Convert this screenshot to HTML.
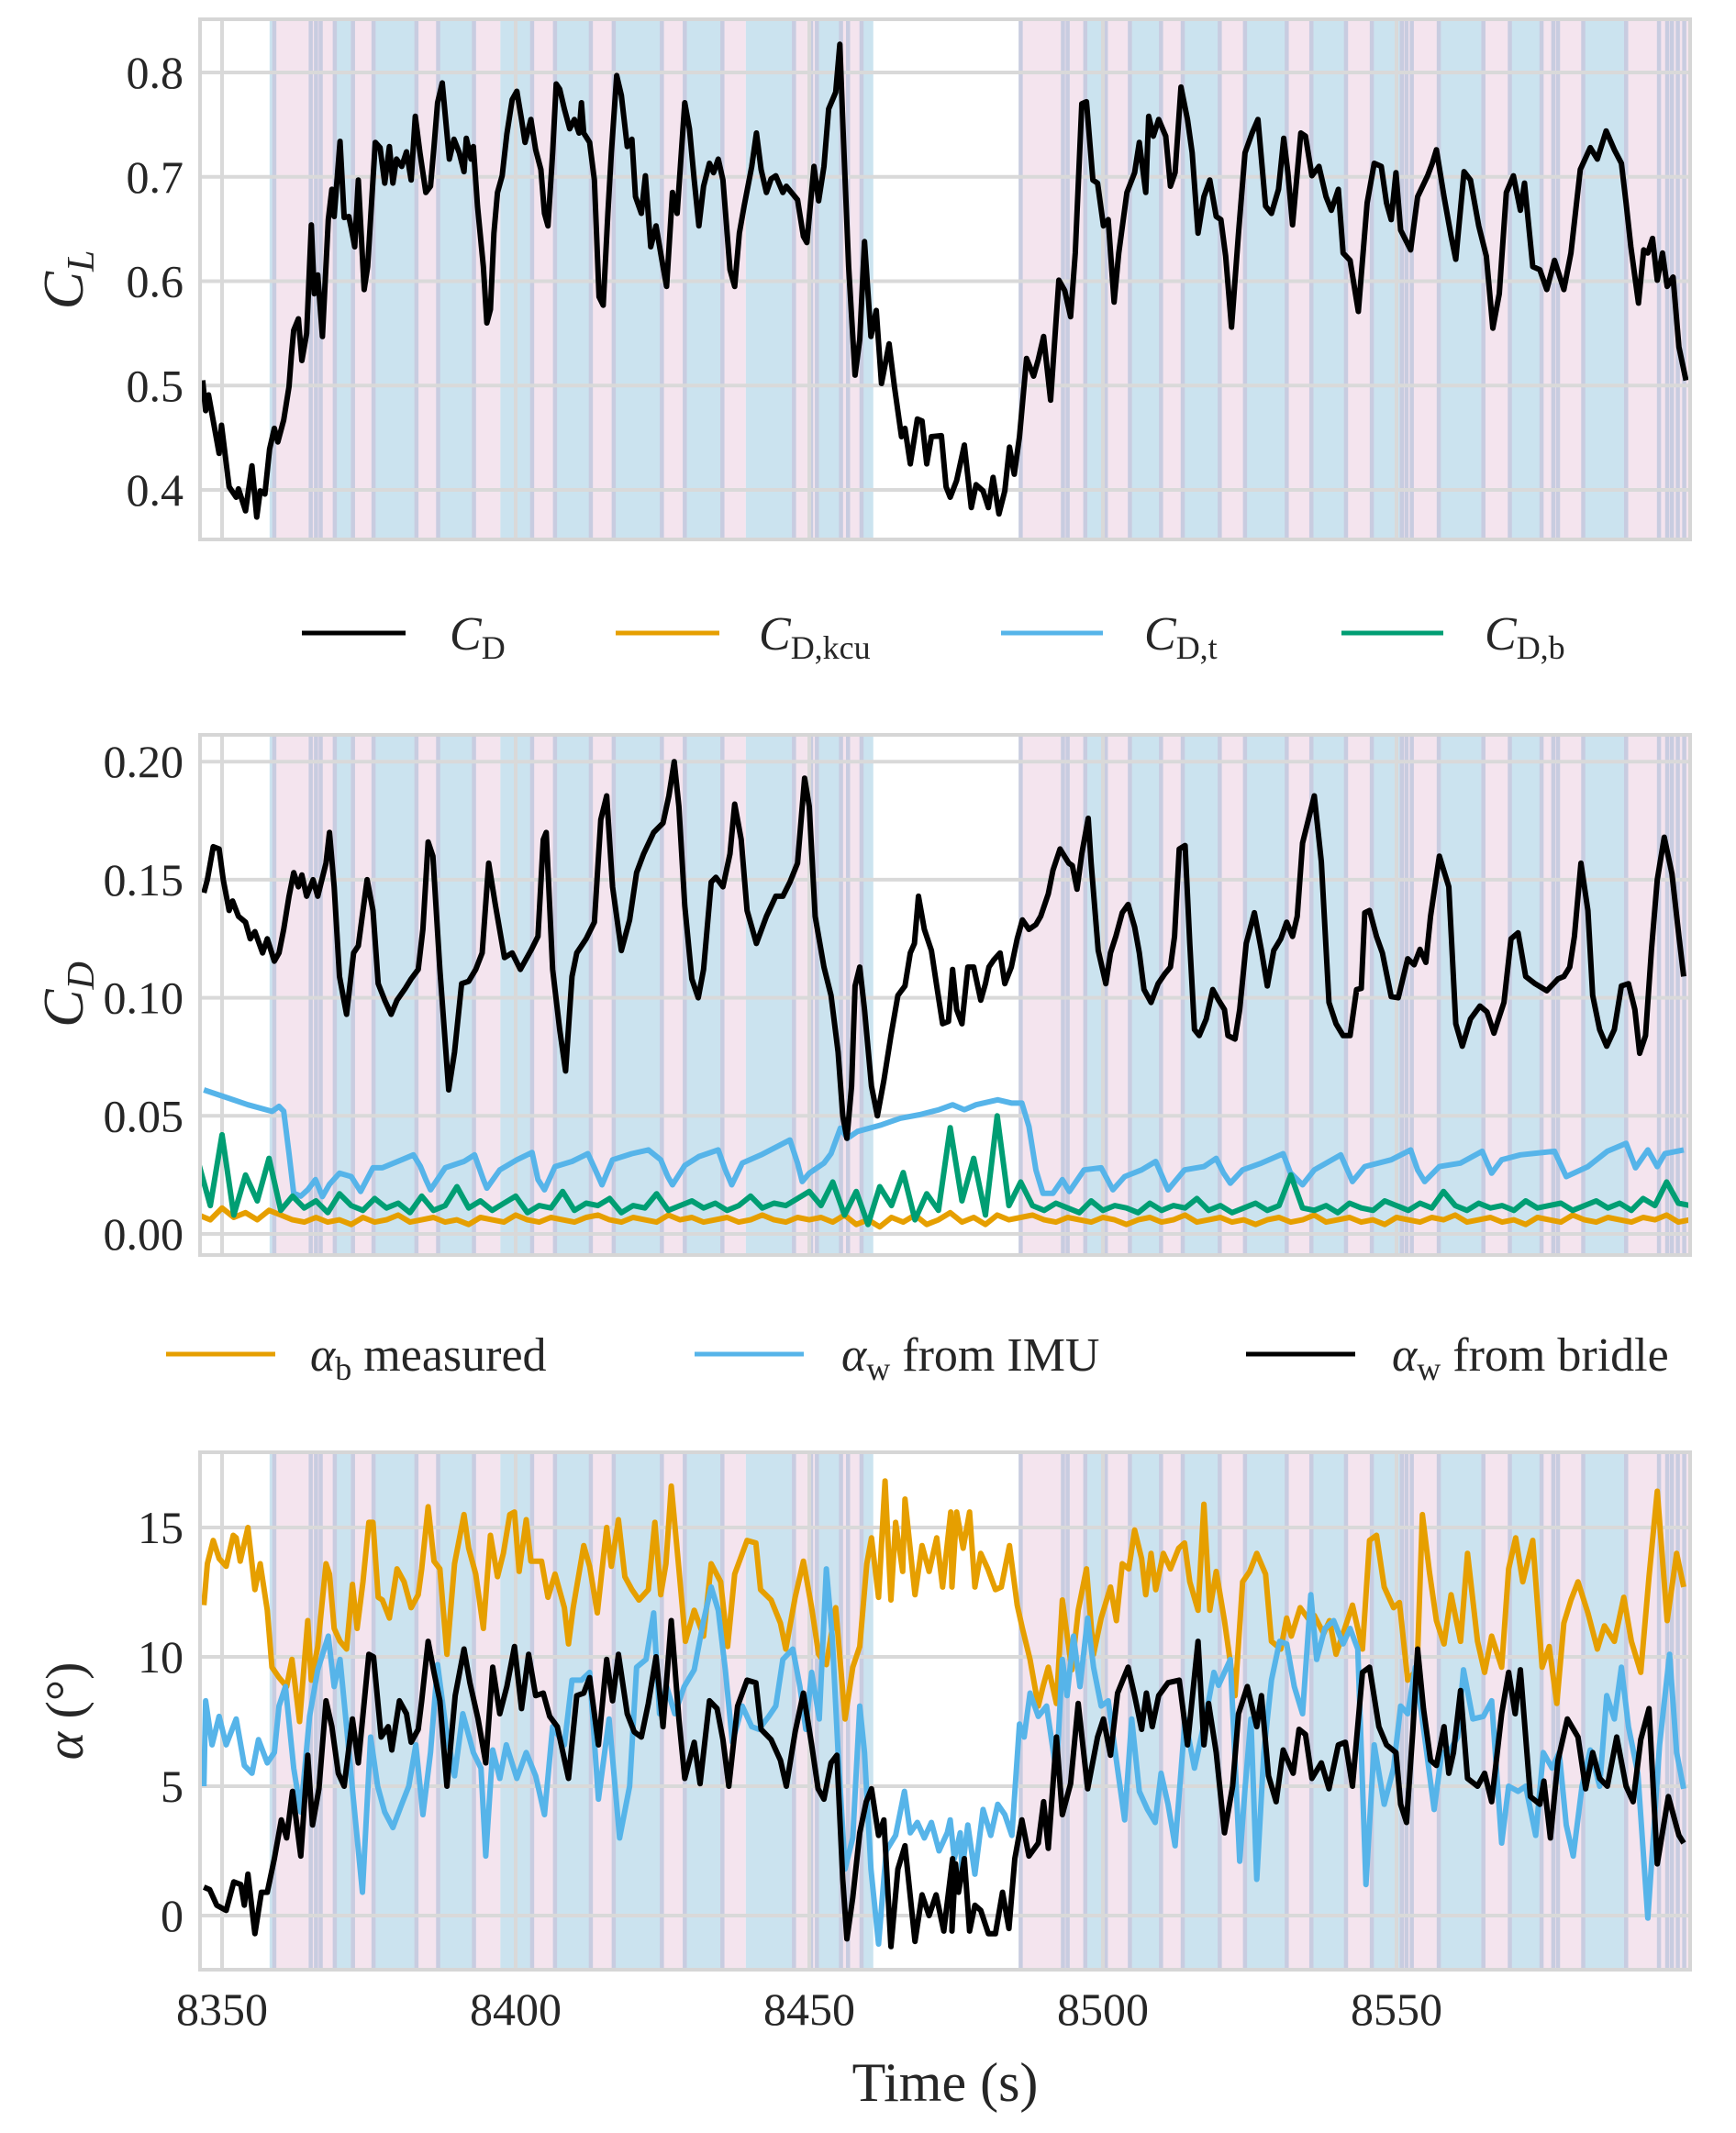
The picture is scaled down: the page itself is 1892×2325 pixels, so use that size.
<!DOCTYPE html>
<html><head><meta charset="utf-8">
<style>
html,body{margin:0;padding:0;background:#fff;}
svg{display:block;}
text{font-family:"Liberation Serif","DejaVu Serif",serif;fill:#262626;}
</style></head>
<body>
<svg id="fig" width="1892" height="2325" viewBox="0 0 1892 2325" xmlns="http://www.w3.org/2000/svg">
<defs>
<clipPath id="c1"><rect x="218" y="21" width="1624" height="567"/></clipPath>
<clipPath id="c2"><rect x="218" y="801" width="1624" height="567"/></clipPath>
<clipPath id="c3"><rect x="218" y="1583" width="1624" height="564"/></clipPath>
</defs>
<g id="p1bg" clip-path="url(#c1)"></g>
<g id="p2bg" clip-path="url(#c2)"></g>
<g id="p3bg" clip-path="url(#c3)"></g>
<g id="grid"></g>
<g id="p1" clip-path="url(#c1)"></g>
<g id="p2" clip-path="url(#c2)"></g>
<g id="p3" clip-path="url(#c3)"></g>
<g id="frames"></g>
<g id="ticks"></g>

<text transform="translate(90,305) rotate(-90)" font-size="62" font-style="italic" text-anchor="middle">C<tspan font-size="42" dy="12">L</tspan></text>
<text transform="translate(90,1084) rotate(-90)" font-size="62" font-style="italic" text-anchor="middle">C<tspan font-size="42" dy="12">D</tspan></text>
<text transform="translate(90,1865) rotate(-90)" font-size="58" text-anchor="middle"><tspan font-style="italic">α</tspan> (°)</text>
<text x="1030" y="2290" font-size="60" text-anchor="middle">Time (s)</text>

<g>
<g><line x1="329" y1="690" x2="442" y2="690" stroke="#000" stroke-width="5"/><text x="490" y="708" font-size="52"><tspan font-style="italic">C</tspan><tspan font-size="36" dy="10">D</tspan></text></g>
<g><line x1="671" y1="690" x2="784" y2="690" stroke="#E69F00" stroke-width="5"/><text x="827" y="708" font-size="52"><tspan font-style="italic">C</tspan><tspan font-size="36" dy="10">D,kcu</tspan></text></g>
<g><line x1="1091" y1="690" x2="1202" y2="690" stroke="#56B4E9" stroke-width="5"/><text x="1247" y="708" font-size="52"><tspan font-style="italic">C</tspan><tspan font-size="36" dy="10">D,t</tspan></text></g>
<g><line x1="1462" y1="690" x2="1573" y2="690" stroke="#009E73" stroke-width="5"/><text x="1618" y="708" font-size="52"><tspan font-style="italic">C</tspan><tspan font-size="36" dy="10">D,b</tspan></text></g>
</g>
<g>
<g><line x1="181" y1="1476" x2="300" y2="1476" stroke="#E69F00" stroke-width="5"/><text x="338" y="1494" font-size="52"><tspan font-style="italic">α</tspan><tspan font-size="36" dy="10">b</tspan><tspan dy="-10"> measured</tspan></text></g>
<g><line x1="757" y1="1476" x2="876" y2="1476" stroke="#56B4E9" stroke-width="5"/><text x="917" y="1494" font-size="52"><tspan font-style="italic">α</tspan><tspan font-size="36" dy="10">w</tspan><tspan dy="-10"> from IMU</tspan></text></g>
<g><line x1="1358" y1="1476" x2="1477" y2="1476" stroke="#000" stroke-width="5"/><text x="1517" y="1494" font-size="52"><tspan font-style="italic">α</tspan><tspan font-size="36" dy="10">w</tspan><tspan dy="-10"> from bridle</tspan></text></g>
</g>
</svg>
<script>
// ---- flight-phase spans ----
const spanStart = [8358.1,8358.9,8365.1,8366.8,8369.2,8372.3,8375.8,8383.1,8386.8,8392.9,8397.4,8402.8,8406.7,8412.8,8416.7,8424.9,8428.8,8435.2,8439.2,8447.4,8451.3,8455.4,8458.9,
 8486.0,8493.2,8497.0,8500.5,8504.6,8509.9,8513.6,8519.9,8524.2,8531.3,8535.5,8541.4,8545.8,8550.9,8557.2,8564.8,8569.3,8574.7,8581.8,8589.1,8594.7];
const spanEnd = [8358.9,8365.1,8366.8,8369.2,8372.3,8375.8,8383.1,8386.8,8392.9,8397.4,8402.8,8406.7,8412.8,8416.7,8424.9,8428.8,8435.2,8439.2,8447.4,8451.3,8455.4,8458.9,8460.9,
 8493.2,8497.0,8500.5,8504.6,8509.9,8513.6,8519.9,8524.2,8531.3,8535.5,8541.4,8545.8,8550.9,8557.2,8564.8,8569.3,8574.7,8581.8,8589.1,8594.7,8601];
const spanType = ["b","p","p","p","b","p","b","p","b","p","b","p","b","p","b","p","b","p","b","p","b","p","b",
 "p","p","b","p","b","p","b","p","b","p","b","p","b","p","b","p","b","p","b","p","p"];
const phaseLines = [8358.9,8365.1,8366.0,8366.8,8369.2,8372.3,8375.8,8383.1,8386.8,8392.9,8402.8,8406.7,8412.8,8416.7,8424.9,8428.8,8435.2,8447.4,8450.3,8451.3,8455.4,8456.6,8458.9,
 8486.0,8493.2,8494.0,8497.0,8500.5,8504.6,8509.9,8513.6,8519.9,8524.2,8531.3,8535.5,8541.4,8545.8,8550.9,8551.7,8552.6,8557.2,8564.8,8569.3,8574.7,8576.7,8577.5,8581.8,8589.1,8594.7,8596.1,8596.9,8597.9,8599.0];

// ---- C_L ----
const clT = [8346.7,8347.2,8347.7,8349.5,8349.9,8351.2,8352.4,8352.8,8354.0,8355.1,8355.9,8356.5,8357.3,8358.1,8358.9,8359.5,8360.5,8361.4,8361.8,8362.2,8363.0,8363.6,8364.4,8365.2,8365.7,8366.3,8367.1,8368.1,8368.7,8369.1,8370.1,8370.8,8371.6,8372.0,8372.6,8373.2,8374.2,8374.8,8376.1,8376.9,8377.7,8378.5,8379.1,8379.7,8380.6,8381.4,8382.2,8382.9,8383.7,8384.7,8385.5,8386.1,8386.7,8387.5,8388.7,8389.5,8390.4,8391.2,8391.6,8392.4,8392.8,8393.5,8394.5,8395.1,8395.7,8396.3,8396.9,8397.7,8398.5,8399.4,8400.2,8401.0,8401.6,8402.6,8403.4,8404.3,8404.9,8405.5,8406.3,8406.9,8407.5,8408.3,8409.2,8410.0,8410.8,8411.2,8411.6,8412.6,8413.4,8414.2,8414.9,8415.7,8416.3,8417.2,8418.0,8419.0,8419.8,8420.4,8421.4,8422.1,8423.0,8423.9,8425.1,8425.7,8426.7,8427.5,8428.8,8429.6,8430.4,8431.2,8432.0,8433.0,8433.7,8434.5,8435.3,8436.5,8437.3,8438.1,8438.9,8440.2,8441.0,8441.8,8442.7,8443.5,8444.3,8445.5,8446.1,8448.0,8449.0,8449.6,8450.8,8451.6,8452.5,8453.3,8454.5,8455.2,8455.8,8456.7,8457.8,8458.6,8459.4,8460.5,8461.4,8462.3,8463.6,8464.5,8465.7,8466.3,8467.2,8468.4,8469.2,8470.0,8470.8,8472.5,8473.3,
 8474.0,8475.1,8476.4,8477.6,8478.4,8479.6,8480.5,8481.3,8482.3,8483.3,8484.1,8484.9,8485.8,8487.0,8488.2,8489.0,8489.9,8491.1,8492.5,8493.5,8494.5,8495.3,8496.4,8497.2,8498.3,8499.1,8500.1,8500.9,8501.9,8502.7,8504.1,8505.4,8506.2,8507.3,8507.8,8508.6,8509.5,8510.7,8511.5,8512.3,8513.3,8514.4,8515.2,8516.2,8517.2,8518.2,8519.3,8520.1,8520.9,8521.9,8523.1,8524.2,8525.4,8526.4,8527.7,8528.7,8529.9,8530.8,8531.5,8532.3,8533.7,8534.5,8535.6,8536.8,8538.0,8538.9,8540.1,8540.9,8542.1,8543.5,8545.0,8546.2,8547.4,8548.3,8549.1,8549.9,8550.7,8552.4,8553.6,8555.3,8556.1,8556.8,8558.1,8559.3,8560.1,8561.5,8562.6,8564.0,8565.3,8566.4,8567.5,8568.7,8569.9,8571.1,8571.8,8573.2,8574.4,8575.6,8576.9,8578.5,8579.7,8581.3,8583.0,8584.2,8585.7,8587.1,8588.3,8589.1,8589.9,8591.2,8592.1,8592.8,8593.6,8594.4,8595.3,8596.1,8597.1,8598.1,8599.3];
const clV = [0.505,0.476,0.491,0.435,0.462,0.403,0.393,0.401,0.380,0.423,0.374,0.399,0.396,0.439,0.459,0.446,0.467,0.499,0.528,0.553,0.564,0.524,0.550,0.654,0.588,0.606,0.547,0.659,0.688,0.662,0.734,0.661,0.662,0.651,0.633,0.697,0.592,0.614,0.733,0.728,0.694,0.729,0.694,0.717,0.710,0.724,0.697,0.758,0.723,0.685,0.691,0.729,0.771,0.790,0.717,0.736,0.723,0.705,0.737,0.717,0.729,0.672,0.614,0.560,0.573,0.646,0.685,0.701,0.741,0.774,0.782,0.755,0.733,0.755,0.726,0.707,0.665,0.653,0.723,0.789,0.784,0.765,0.746,0.755,0.742,0.771,0.742,0.733,0.697,0.585,0.577,0.665,0.723,0.797,0.778,0.729,0.736,0.681,0.665,0.701,0.633,0.653,0.614,0.595,0.685,0.665,0.771,0.746,0.697,0.653,0.691,0.713,0.704,0.717,0.697,0.611,0.595,0.646,0.672,0.710,0.742,0.707,0.685,0.698,0.701,0.685,0.691,0.678,0.643,0.637,0.710,0.677,0.710,0.765,0.781,0.827,0.739,0.614,0.510,0.544,0.638,0.547,0.572,0.502,0.540,0.499,0.451,0.459,0.425,0.468,0.466,0.425,0.451,0.452,0.403,
 0.393,0.409,0.443,0.383,0.405,0.399,0.383,0.412,0.377,0.399,0.441,0.415,0.451,0.526,0.509,0.525,0.547,0.486,0.601,0.591,0.566,0.627,0.770,0.772,0.697,0.694,0.653,0.659,0.580,0.627,0.685,0.704,0.733,0.685,0.758,0.739,0.755,0.739,0.691,0.704,0.786,0.755,0.723,0.646,0.681,0.697,0.662,0.659,0.624,0.556,0.646,0.723,0.742,0.755,0.672,0.665,0.688,0.737,0.704,0.654,0.742,0.739,0.701,0.710,0.681,0.668,0.688,0.627,0.620,0.571,0.675,0.713,0.710,0.675,0.659,0.704,0.649,0.630,0.681,0.701,0.713,0.726,0.681,0.643,0.621,0.705,0.697,0.653,0.624,0.555,0.588,0.685,0.701,0.668,0.694,0.614,0.611,0.592,0.620,0.592,0.627,0.707,0.728,0.717,0.744,0.726,0.713,0.675,0.633,0.579,0.630,0.627,0.641,0.601,0.627,0.595,0.604,0.537,0.505];

// ---- C_D ----
const cdT = [8346.9,8347.5,8348.5,8349.5,8350.2,8351.2,8351.8,8352.8,8354.0,8354.8,8355.6,8356.9,8357.7,8358.9,8359.7,8360.5,8361.4,8362.2,8363.0,8363.6,8364.4,8365.5,8366.3,8367.7,8368.3,8369.1,8370.0,8371.2,8372.4,8373.2,8374.7,8375.7,8376.6,8377.7,8378.8,8379.8,8381.2,8382.2,8383.4,8384.2,8385.1,8385.9,8387.1,8388.6,8389.6,8390.8,8392.0,8393.2,8394.3,8395.4,8396.5,8398.1,8399.4,8400.8,8402.6,8403.8,8404.7,8405.2,8406.3,8407.5,8408.5,8409.6,8410.4,8412.0,8413.4,8414.5,8415.5,8416.5,8418.0,8419.4,8420.6,8421.8,8423.5,8425.1,8426.1,8427.0,8427.8,8428.8,8430.0,8431.1,8432.0,8433.3,8434.1,8435.3,8436.5,8437.3,8438.4,8439.4,8441.0,8442.7,8444.3,8445.5,8446.7,8448.0,8449.2,8450.0,8451.0,8452.5,8453.7,8454.9,8455.7,8456.4,8457.2,8457.8,8458.6,8459.4,8460.6,8461.6,8462.7,8463.9,8465.1,8466.3,8467.2,8467.9,8468.6,8469.6,8470.8,8471.7,8472.7,8473.7,8474.4,
 8475.1,8476.0,8477.0,8478.0,8479.2,8480.0,8480.6,8481.4,8482.5,8483.3,8484.4,8485.4,8486.3,8487.4,8488.6,8489.4,8490.7,8491.5,8492.7,8494.2,8494.8,8495.6,8496.4,8497.5,8498.0,8499.2,8500.5,8501.3,8502.2,8503.3,8504.3,8505.4,8506.2,8507.0,8508.2,8509.4,8510.5,8511.5,8512.2,8513.0,8514.0,8514.8,8515.6,8516.4,8517.6,8518.7,8519.7,8520.7,8521.3,8522.5,8523.3,8524.4,8525.8,8527.0,8528.0,8529.1,8530.3,8531.3,8532.3,8533.1,8534.0,8536.0,8537.2,8538.5,8539.7,8540.9,8542.1,8543.2,8544.0,8544.6,8545.4,8546.6,8547.6,8549.1,8550.3,8551.9,8553.0,8554.0,8555.0,8555.8,8557.3,8558.9,8560.1,8561.2,8562.6,8564.2,8565.4,8566.6,8567.5,8568.3,8569.5,8570.7,8572.0,8573.6,8575.6,8577.5,8578.5,8579.5,8580.3,8581.4,8582.6,8583.4,8584.6,8585.8,8587.1,8588.3,8589.5,8590.6,8591.4,8592.4,8593.4,8594.4,8595.6,8596.9,8598.1,8598.9];
const cdV = [0.1445,0.150,0.164,0.163,0.150,0.137,0.141,0.1345,0.132,0.125,0.128,0.119,0.125,0.1155,0.119,0.129,0.143,0.153,0.147,0.152,0.143,0.150,0.143,0.157,0.170,0.147,0.109,0.093,0.119,0.122,0.150,0.137,0.106,0.099,0.093,0.099,0.104,0.108,0.112,0.129,0.166,0.160,0.112,0.061,0.077,0.106,0.107,0.112,0.119,0.157,0.140,0.117,0.119,0.112,0.120,0.126,0.167,0.170,0.112,0.0865,0.069,0.109,0.119,0.125,0.132,0.1755,0.1855,0.147,0.120,0.133,0.153,0.161,0.170,0.174,0.1855,0.200,0.181,0.139,0.108,0.100,0.112,0.149,0.151,0.147,0.161,0.182,0.167,0.137,0.123,0.1345,0.143,0.143,0.149,0.157,0.193,0.181,0.1345,0.113,0.101,0.077,0.050,0.0405,0.0625,0.105,0.113,0.095,0.0625,0.050,0.065,0.084,0.101,0.105,0.119,0.123,0.143,0.129,0.120,0.105,0.089,0.090,0.112,
 0.095,0.089,0.113,0.113,0.099,0.106,0.113,0.116,0.119,0.106,0.113,0.125,0.133,0.129,0.131,0.1345,0.144,0.154,0.163,0.157,0.156,0.146,0.161,0.176,0.157,0.120,0.106,0.119,0.126,0.136,0.1395,0.130,0.119,0.1035,0.098,0.106,0.110,0.113,0.126,0.163,0.1645,0.123,0.0865,0.084,0.091,0.1035,0.099,0.095,0.084,0.0825,0.095,0.123,0.136,0.120,0.105,0.120,0.125,0.132,0.126,0.1345,0.1655,0.1855,0.1575,0.098,0.089,0.084,0.084,0.1035,0.104,0.136,0.137,0.126,0.119,0.1005,0.100,0.1165,0.114,0.1205,0.115,0.1345,0.160,0.147,0.089,0.0795,0.091,0.0965,0.094,0.085,0.092,0.098,0.125,0.1275,0.109,0.106,0.103,0.108,0.109,0.113,0.126,0.157,0.137,0.101,0.0865,0.0795,0.0865,0.105,0.106,0.095,0.0765,0.084,0.120,0.150,0.168,0.1525,0.126,0.109,0.1065,0.102];

const cdtT = [8346.9,8351.1,8354.4,8358.5,8359.7,8360.5,8361.4,8362.2,8363.4,8364.6,8365.9,8367.1,8368.3,8370.0,8372.0,8373.6,8375.7,8377.3,8380.6,8382.6,8383.8,8384.7,8385.5,8388.0,8391.2,8393.0,8394.5,8395.1,8397.3,8400.2,8402.8,8403.8,8404.9,8406.7,8409.6,8412.3,8413.4,8414.7,8416.5,8419.8,8422.6,8424.7,8425.9,8426.7,8428.8,8431.2,8434.5,8435.7,8436.8,8438.6,8441.8,8446.7,8448.0,8448.8,8450.0,8452.5,8453.7,8455.3,8456.5,8458.2,8462.3,8465.5,8468.8,8472.1,8474.4,
 8476.4,8478.4,8482.1,8484.5,8486.2,8487.4,8488.6,8489.8,8491.5,8493.1,8494.3,8496.8,8499.7,8501.7,8503.7,8506.6,8509.0,8511.1,8513.9,8517.2,8519.3,8520.5,8521.7,8523.8,8527.0,8530.7,8531.9,8534.0,8536.0,8540.5,8542.5,8544.6,8549.1,8552.4,8553.6,8554.8,8557.3,8560.9,8564.6,8566.2,8567.9,8571.1,8576.9,8578.9,8582.6,8585.9,8589.1,8590.7,8592.8,8594.4,8595.7,8598.9];
const cdtV = [0.061,0.0575,0.0547,0.0519,0.054,0.052,0.034,0.0172,0.016,0.0187,0.023,0.0158,0.021,0.0257,0.0243,0.018,0.028,0.028,0.0314,0.0335,0.0285,0.023,0.0187,0.028,0.0307,0.0335,0.023,0.0194,0.0271,0.0314,0.0345,0.023,0.0187,0.0285,0.0307,0.034,0.028,0.0208,0.0314,0.034,0.0356,0.0314,0.0243,0.0208,0.029,0.0328,0.0356,0.0271,0.0208,0.030,0.0335,0.0398,0.030,0.0222,0.0257,0.030,0.034,0.0448,0.0405,0.0434,0.0462,0.049,0.0505,0.0526,0.0547,
 0.0526,0.0547,0.0568,0.0554,0.0554,0.0455,0.0271,0.0172,0.0172,0.023,0.018,0.0271,0.028,0.0187,0.0243,0.0271,0.0307,0.0187,0.0271,0.0285,0.032,0.026,0.0215,0.0271,0.030,0.034,0.026,0.0208,0.0271,0.0335,0.0222,0.0285,0.0314,0.0356,0.0271,0.0222,0.0285,0.030,0.035,0.0257,0.0314,0.0335,0.035,0.0243,0.0285,0.035,0.0384,0.028,0.0356,0.0285,0.034,0.0356];

const noiseStart = 8346;
const noiseStep = 2;
const cdbV = [0.030,0.012,0.042,0.008,0.025,0.014,0.032,0.010,
 0.016,0.011,0.014,0.009,0.017,0.012,0.010,0.015,0.011,0.013,0.009,0.016,0.010,0.012,0.020,0.011,0.014,0.010,0.013,0.016,0.009,0.012,0.011,0.018,0.010,0.013,0.012,0.015,0.009,0.012,0.011,0.017,0.010,0.012,0.014,0.011,0.013,0.010,0.012,0.016,0.011,0.013,0.012,0.015,0.018,
 0.012,0.022,0.008,0.018,0.004,0.020,0.012,0.026,0.006,0.017,0.010,0.045,0.014,0.032,0.008,0.050,0.012,0.022,
 0.012,0.010,0.013,0.011,0.009,0.014,0.010,0.012,0.011,0.009,0.013,0.010,0.012,0.011,0.015,0.010,0.012,0.009,0.011,0.013,0.010,0.012,0.025,0.011,0.010,0.012,0.009,0.013,0.011,0.010,0.014,0.012,0.010,0.013,0.011,0.018,0.012,0.010,0.013,0.011,0.012,0.010,0.014,0.011,0.012,0.013,0.010,0.012,0.014,0.011,0.013,0.010,0.015,0.012,0.022,0.013,0.012];
const cdkcuV = [0.008,0.006,0.011,0.007,0.009,0.006,0.010,0.008,
 0.006,0.005,0.007,0.005,0.006,0.004,0.007,0.005,0.006,0.008,0.005,0.006,0.007,0.005,0.006,0.004,0.007,0.006,0.005,0.008,0.006,0.005,0.007,0.006,0.005,0.007,0.008,0.006,0.005,0.007,0.006,0.005,0.008,0.006,0.007,0.005,0.006,0.007,0.005,0.006,0.008,0.006,0.005,0.007,0.006,
 0.007,0.005,0.008,0.004,0.006,0.003,0.007,0.005,0.008,0.004,0.006,0.009,0.005,0.007,0.004,0.008,0.006,0.007,
 0.008,0.006,0.005,0.007,0.006,0.005,0.007,0.006,0.004,0.006,0.007,0.005,0.006,0.008,0.005,0.006,0.007,0.005,0.006,0.004,0.006,0.007,0.005,0.006,0.008,0.005,0.006,0.007,0.005,0.006,0.004,0.007,0.006,0.005,0.007,0.006,0.008,0.005,0.006,0.007,0.005,0.006,0.004,0.007,0.006,0.005,0.008,0.006,0.005,0.007,0.006,0.005,0.007,0.006,0.008,0.005,0.006];

// ---- alpha ----
const abT = [8346.9,8347.5,8348.5,8349.5,8350.7,8351.9,8352.4,8353.1,8354.4,8355.6,8356.5,8357.7,8358.5,8359.7,8361.0,8361.9,8363.2,8364.6,8365.2,8366.3,8367.7,8368.3,8369.1,8370.1,8371.2,8372.2,8373.0,8374.0,8375.0,8375.7,8376.6,8377.3,8378.5,8379.8,8381.0,8382.2,8383.4,8384.0,8385.1,8386.1,8387.1,8388.3,8389.6,8391.2,8392.0,8393.2,8394.5,8395.7,8396.9,8397.9,8399.0,8399.8,8400.6,8401.8,8402.6,8404.4,8405.5,8406.7,8408.3,8409.0,8409.8,8411.6,8412.6,8413.9,8415.5,8416.3,8417.5,8418.6,8419.8,8421.0,8422.6,8423.7,8424.7,8425.6,8426.5,8427.8,8428.9,8430.4,8432.0,8433.3,8434.9,8436.1,8437.3,8439.4,8440.9,8441.7,8443.5,8445.1,8446.0,8447.6,8449.0,8450.4,8451.6,8452.9,8454.5,8456.1,8457.4,8458.6,8459.8,8460.6,8461.8,8462.9,8463.9,8464.7,8465.9,8466.3,8468.0,8469.2,8470.4,8471.7,8472.7,8474.1,
 8474.3,8475.1,8476.2,8477.3,8478.2,8479.2,8480.4,8481.7,8482.7,8484.1,8485.4,8486.3,8487.6,8489.0,8489.8,8490.7,8492.1,8493.1,8494.7,8495.8,8497.2,8498.4,8499.7,8501.3,8502.3,8503.3,8504.4,8505.4,8506.6,8507.3,8508.2,8509.0,8510.3,8511.5,8512.9,8513.9,8514.8,8516.2,8517.2,8518.2,8519.3,8520.7,8522.5,8523.8,8525.0,8526.2,8527.7,8528.7,8530.3,8531.3,8532.1,8533.6,8535.2,8536.0,8537.6,8538.6,8539.7,8540.9,8542.5,8544.2,8545.4,8546.6,8547.9,8549.5,8550.5,8551.9,8553.5,8554.4,8555.6,8556.8,8558.1,8559.3,8560.9,8562.1,8563.8,8565.0,8566.2,8567.9,8569.1,8570.3,8571.5,8573.2,8574.8,8576.0,8577.3,8578.5,8579.7,8580.9,8582.6,8584.2,8585.4,8587.1,8588.7,8590.0,8591.6,8593.0,8594.4,8596.1,8597.7,8598.9];
const abV = [12.0,13.6,14.5,13.8,13.5,14.7,14.6,13.7,15.0,12.6,13.6,11.8,9.6,9.2,8.85,9.9,7.5,11.4,9.1,10.4,13.6,13.2,11.1,10.6,10.3,12.8,11.1,12.9,15.2,15.2,12.3,12.2,11.5,13.4,12.9,11.9,12.4,13.4,15.8,13.7,13.4,10.1,13.6,15.5,14.2,13.2,11.1,14.7,13.1,14.0,15.5,15.6,13.3,15.3,13.7,13.7,12.3,13.2,11.9,10.5,11.9,14.3,13.5,11.7,15.0,13.5,15.3,13.1,12.6,12.2,12.6,15.2,12.4,13.6,16.6,13.4,10.6,11.8,10.8,13.6,12.9,10.4,13.2,14.5,14.4,12.6,12.2,11.3,10.3,12.3,13.7,11.9,10.1,9.7,11.9,7.6,9.6,10.4,13.6,14.6,12.3,16.8,12.2,15.2,13.3,16.1,12.4,14.3,13.3,14.6,12.7,15.6,
 12.7,15.6,14.2,15.6,12.7,14.0,13.4,12.6,12.7,14.3,12.0,11.1,9.9,8.1,8.85,9.6,8.2,12.2,9.5,11.8,13.4,10.1,11.5,12.7,11.4,13.6,13.4,14.9,13.8,12.4,14.0,12.6,14.0,13.4,14.2,14.4,12.9,11.8,15.9,11.8,13.3,11.4,8.5,12.9,13.3,14.0,13.2,10.6,10.3,11.5,10.8,11.9,11.4,11.6,10.9,11.4,10.1,10.9,12.0,10.3,14.5,14.7,12.7,11.9,12.1,9.1,9.5,15.5,13.3,11.4,10.5,12.4,10.6,14.0,10.6,9.4,10.8,9.6,13.4,14.6,12.9,14.5,9.6,10.4,8.2,11.3,12.2,12.9,11.7,10.3,11.2,10.6,12.3,10.6,9.4,13.1,16.4,11.4,14.0,12.7,12.4];

const awiT = [8346.9,8347.2,8348.3,8349.5,8350.7,8352.4,8353.8,8355.1,8356.2,8357.7,8358.9,8359.7,8360.8,8362.2,8363.4,8364.9,8366.3,8368.1,8369.1,8370.1,8371.2,8372.4,8373.9,8375.3,8376.5,8377.7,8379.1,8380.6,8381.8,8383.0,8384.2,8385.5,8386.7,8388.1,8389.6,8391.0,8392.8,8394.1,8394.9,8396.1,8397.3,8398.4,8400.2,8401.8,8403.4,8404.9,8406.3,8408.3,8409.6,8411.2,8412.6,8414.1,8415.9,8417.7,8419.4,8420.6,8422.2,8423.5,8424.5,8425.7,8427.1,8428.7,8430.4,8432.0,8433.3,8434.5,8435.7,8436.9,8438.6,8440.2,8441.4,8443.1,8444.3,8445.5,8447.2,8448.4,8449.4,8450.4,8451.7,8452.9,8453.9,8454.9,8456.1,8457.4,8458.6,8459.4,8460.5,8461.8,8463.1,8464.7,8466.2,8467.2,8468.4,8469.6,8470.8,8472.1,8473.5,
 8474.0,8474.7,8475.7,8476.0,8477.0,8478.2,8479.6,8480.9,8482.1,8483.3,8484.5,8485.8,8486.6,8487.6,8489.0,8490.4,8492.1,8493.1,8493.9,8495.0,8496.1,8497.4,8498.4,8499.7,8500.9,8502.3,8503.7,8504.9,8506.2,8507.6,8508.9,8509.9,8511.1,8512.3,8514.0,8515.6,8517.6,8518.9,8519.7,8521.7,8523.3,8524.2,8525.2,8526.2,8527.4,8528.7,8530.1,8531.3,8532.6,8534.0,8535.4,8536.4,8537.8,8539.3,8540.9,8542.1,8543.4,8544.8,8546.2,8547.9,8549.5,8550.7,8551.9,8553.2,8554.8,8556.4,8557.7,8558.9,8560.4,8561.4,8563.0,8564.8,8566.2,8567.9,8569.1,8570.7,8572.0,8573.7,8575.0,8576.5,8577.7,8578.9,8580.1,8581.6,8583.0,8584.6,8585.8,8587.1,8588.3,8589.5,8591.1,8592.8,8594.8,8596.5,8597.7,8598.9];
const awiV = [5.0,8.3,6.6,7.7,6.6,7.6,5.8,5.5,6.8,5.9,6.3,8.1,8.85,5.7,4.0,7.7,9.5,10.8,8.85,9.9,7.3,4.4,0.9,6.9,5.0,4.0,3.4,4.3,5.0,6.6,3.9,6.3,9.7,7.3,5.4,7.8,6.3,5.7,2.3,6.4,5.3,6.6,5.3,6.3,5.4,3.9,7.3,6.6,9.1,9.1,9.4,4.5,7.6,3.0,5.0,9.6,9.9,11.7,7.8,8.85,7.8,8.85,9.5,11.4,12.7,11.8,9.5,6.7,8.1,7.3,7.2,7.7,8.1,9.9,10.3,8.85,7.2,9.4,7.6,13.4,10.8,6.3,1.8,3.0,8.1,6.3,1.8,-1.1,2.5,3.1,4.8,3.2,3.6,3.0,3.6,2.5,3.2,
 3.7,2.2,3.2,1.7,3.5,1.6,4.1,3.1,4.3,3.9,3.1,7.4,6.9,8.6,7.7,8.1,5.5,9.9,8.5,10.8,8.85,11.5,9.6,8.1,8.3,6.0,3.7,7.6,4.8,4.1,3.6,5.5,4.3,2.7,7.6,5.7,7.8,9.4,8.9,9.9,2.1,4.9,7.6,1.4,6.3,9.1,10.6,10.5,8.85,7.8,12.4,9.9,11.1,11.4,10.5,11.1,10.3,1.2,6.6,4.3,5.7,8.1,7.8,9.6,6.9,4.1,6.3,6.3,6.9,9.5,7.6,7.7,8.3,2.8,5.0,4.8,5.0,3.1,6.3,5.7,6.3,3.5,2.3,5.0,6.4,5.0,8.5,7.6,9.6,7.3,5.5,-0.1,6.6,10.1,6.3,4.9,6.6];

const awbT = [8346.9,8347.9,8349.1,8350.7,8352.0,8353.2,8353.8,8354.4,8355.6,8356.7,8357.7,8358.9,8360.1,8361.0,8362.0,8363.4,8364.6,8365.4,8366.5,8367.7,8368.7,8369.8,8370.8,8372.2,8373.2,8375.0,8375.8,8377.1,8378.3,8378.9,8380.2,8381.4,8382.2,8383.4,8384.0,8385.1,8386.1,8387.1,8388.3,8389.7,8391.2,8392.2,8393.6,8394.9,8396.1,8397.3,8398.5,8399.8,8401.0,8402.2,8403.4,8404.7,8405.8,8407.1,8409.0,8410.4,8411.6,8412.6,8414.1,8415.5,8416.5,8417.5,8419.0,8420.2,8421.4,8422.6,8423.9,8425.1,8426.5,8427.8,8428.8,8430.4,8431.4,8433.0,8434.3,8435.3,8436.3,8437.8,8439.4,8440.9,8441.8,8443.5,8445.1,8446.1,8447.6,8449.0,8450.4,8451.5,8452.5,8453.7,8454.7,8455.7,8456.4,8457.4,8458.6,8459.7,8460.6,8461.8,8462.7,8463.9,8465.1,8466.3,8468.0,8469.2,8470.4,8471.6,8472.9,8474.4,
 8474.3,8474.9,8475.4,8476.4,8477.3,8478.2,8479.2,8480.5,8481.7,8482.9,8484.0,8485.0,8486.2,8487.4,8489.0,8489.9,8490.7,8492.1,8493.1,8494.5,8495.8,8497.4,8499.1,8500.1,8501.3,8502.5,8504.3,8505.4,8506.6,8507.4,8508.4,8509.5,8511.1,8513.0,8514.4,8516.2,8517.2,8518.0,8519.3,8520.7,8522.1,8523.1,8524.6,8526.2,8527.0,8528.2,8529.5,8530.7,8532.4,8533.4,8534.5,8535.6,8537.2,8538.5,8540.1,8541.3,8542.5,8544.2,8545.4,8547.0,8548.3,8549.9,8550.7,8551.7,8552.8,8553.6,8554.6,8555.8,8556.8,8558.1,8558.9,8559.7,8560.9,8562.1,8563.8,8565.0,8566.2,8567.9,8569.1,8570.2,8571.1,8572.8,8574.4,8575.1,8576.2,8577.5,8579.1,8580.9,8582.2,8583.4,8584.6,8585.9,8587.5,8589.1,8590.3,8591.6,8593.0,8594.4,8596.3,8598.1,8598.9];
const awbV = [1.1,1.0,0.4,0.2,1.3,1.2,0.4,1.6,-0.7,0.9,0.9,2.2,3.7,3.0,4.8,2.3,6.2,3.5,4.9,8.3,7.3,5.5,5.0,7.6,5.9,10.1,10.0,6.9,7.3,6.4,8.3,7.8,6.7,7.2,8.3,10.6,9.4,8.3,5.0,8.5,10.3,9.0,7.6,5.9,9.6,7.8,8.85,10.4,8.0,10.1,8.5,8.6,7.7,7.3,5.3,8.5,8.6,9.2,6.6,9.9,8.3,10.1,7.8,7.1,6.9,8.2,10.0,7.3,11.4,7.6,5.3,6.7,5.1,8.3,8.0,6.8,5.0,8.1,9.1,9.0,7.2,6.8,6.0,5.0,7.1,8.6,6.6,4.9,4.5,5.9,6.2,1.4,-0.9,0.7,3.2,4.4,4.9,3.1,3.7,-1.2,1.8,2.7,-1.0,0.8,0.0,0.8,-0.6,2.2,
 -0.6,2.0,0.9,2.2,-0.6,0.4,0.2,-0.7,-0.7,0.9,-0.5,2.2,3.7,2.3,2.8,4.4,2.6,6.9,3.9,5.1,8.2,4.9,6.9,7.6,6.2,8.6,9.6,8.5,7.2,8.6,7.3,8.5,9.0,9.1,6.6,10.6,6.6,8.2,6.3,3.2,5.0,7.8,8.85,7.3,8.5,5.4,4.4,6.4,5.5,7.2,7.0,5.3,5.9,4.9,6.6,6.7,5.0,9.4,9.6,7.3,6.6,6.3,4.3,3.6,7.2,10.3,8.0,6.0,5.8,7.3,5.5,6.3,8.7,5.3,5.0,5.5,4.4,7.8,9.4,7.8,9.5,4.6,4.3,5.2,3.0,6.0,7.6,6.9,4.9,6.3,5.3,5.0,6.9,5.0,4.4,6.8,8.0,2.0,4.6,3.1,2.8];

// ---- axes ----
const xTicks = [8350,8400,8450,8500,8550];
const clTicks = [0.4,0.5,0.6,0.7,0.8];
const cdTicks = [0.00,0.05,0.10,0.15,0.20];
const alTicks = [0,5,10,15];

const NS = "http://www.w3.org/2000/svg";
const X0 = 218, X1 = 1842;
const panels = [{y0:21,y1:588},{y0:801,y1:1368},{y0:1583,y1:2147}];
function xs(t){ return 242 + (t-8350)*6.4; }
function y1s(v){ return 79 + (0.8-v)*1137.5; }
function y2s(v){ return 1345 - v*2574; }
function y3s(v){ return 2088 - v*28.2; }
function mk(tag, attrs, parent){
  const e = document.createElementNS(NS, tag);
  for (const k in attrs) e.setAttribute(k, attrs[k]);
  parent.appendChild(e);
  return e;
}

// backgrounds
['p1bg','p2bg','p3bg'].forEach((id, pi) => {
  const g = document.getElementById(id);
  const P = panels[pi];
  for (let i = 0; i < spanStart.length; i++) {
    const x = xs(spanStart[i]), w = xs(spanEnd[i]) - x;
    const r = mk('rect', {x:x, y:P.y0, width:w, height:P.y1-P.y0, fill: spanType[i]==='b' ? '#cbe3ef' : '#f4e4ee'}, g);
    
    
  }
  for (let i = 0; i < phaseLines.length; i++) {
    const l = mk('line', {x1:xs(phaseLines[i]), x2:xs(phaseLines[i]), y1:P.y0, y2:P.y1, stroke:'#c8cce0', 'stroke-width':4.5}, g);
    
    
  }
});

// grid
const grid = document.getElementById('grid');
panels.forEach((P) => {
  xTicks.forEach(t => {
    const l = mk('line', {x1:xs(t), x2:xs(t), y1:P.y0, y2:P.y1, stroke:'#d9d9d9', 'stroke-width':4}, grid);
    
    
  });
});
[[clTicks,y1s],[cdTicks,y2s],[alTicks,y3s]].forEach(([tk, f]) => {
  tk.forEach(v => {
    const l = mk('line', {x1:X0, x2:X1, y1:f(v), y2:f(v), stroke:'#d9d9d9', 'stroke-width':4}, grid);
    
    
  });
});

// frames
const frames = document.getElementById('frames');
panels.forEach(P => {
  const r = mk('rect', {x:X0, y:P.y0, width:X1-X0, height:P.y1-P.y0, fill:'none', stroke:'#d6d6d6', 'stroke-width':4}, frames);
  
  
});

// tick labels
const tg = document.getElementById('ticks');
function ylab(tk, f, fmt){
  tk.forEach(v => {
    const t = mk('text', {x:200, y:f(v)+17, 'font-size':50, 'text-anchor':'end'}, tg);
    t.textContent = fmt(v);
    
    
  });
}
ylab(clTicks, y1s, v => v.toFixed(1));
ylab(cdTicks, y2s, v => v.toFixed(2));
ylab(alTicks, y3s, v => String(v));
xTicks.forEach(t => {
  const e = mk('text', {x:xs(t), y:2207, 'font-size':50, 'text-anchor':'middle'}, tg);
  e.textContent = String(t);
  
  
});

// series
function pathFrom(T, V, f){
  let d = '';
  for (let i = 0; i < T.length; i++) d += (i ? 'L' : 'M') + xs(T[i]).toFixed(1) + ',' + f(V[i]).toFixed(1);
  return d;
}
function noiseT(n){ const a = []; for (let i = 0; i < n; i++) a.push(noiseStart + i*noiseStep); return a; }
function line(parent, d, color, name){
  const p = mk('path', {d:d, fill:'none', stroke:color, 'stroke-width':6, 'stroke-linejoin':'round'}, parent);
  
  
}
const g1 = document.getElementById('p1'), g2 = document.getElementById('p2'), g3 = document.getElementById('p3');
line(g1, pathFrom(clT, clV, y1s), '#000', 'cl-line');
line(g2, pathFrom(cdtT, cdtV, y2s), '#56B4E9', 'cd-t-line');
line(g2, pathFrom(noiseT(cdkcuV.length), cdkcuV, y2s), '#E69F00', 'cd-kcu-line');
line(g2, pathFrom(noiseT(cdbV.length), cdbV, y2s), '#009E73', 'cd-b-line');
line(g2, pathFrom(cdT, cdV, y2s), '#000', 'cd-line');
line(g3, pathFrom(abT, abV, y3s), '#E69F00', 'alpha-b-measured-line');
line(g3, pathFrom(awiT, awiV, y3s), '#56B4E9', 'alpha-w-imu-line');
line(g3, pathFrom(awbT, awbV, y3s), '#000', 'alpha-w-bridle-line');
</script>
</body></html>
